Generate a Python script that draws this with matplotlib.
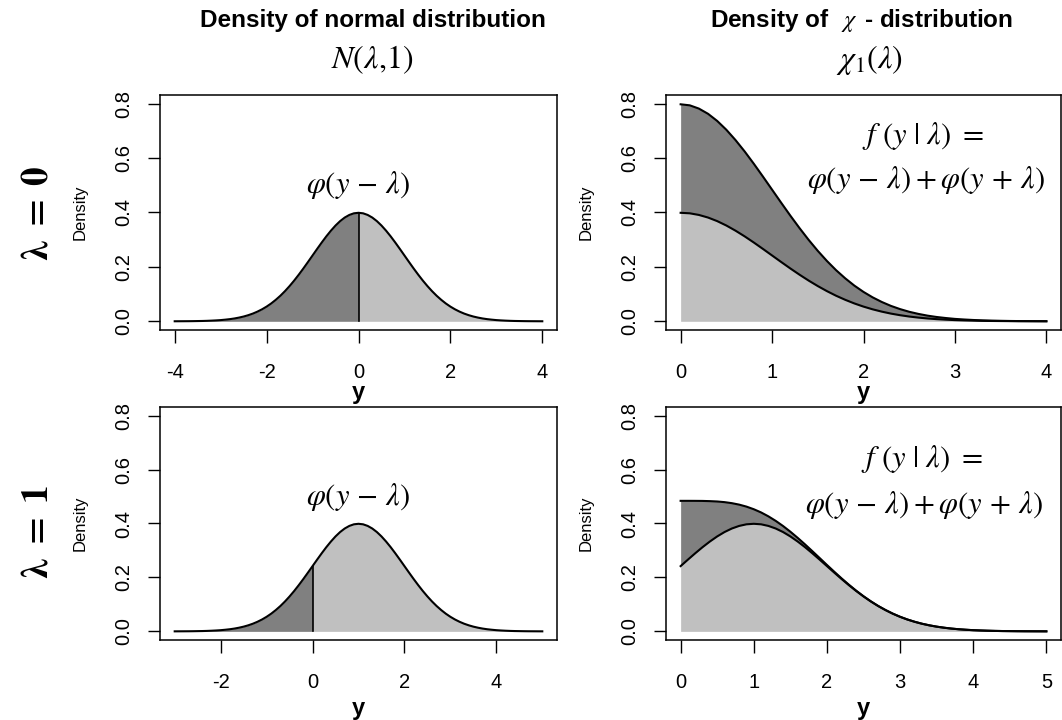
import numpy as np
import matplotlib
matplotlib.use("Agg")
import matplotlib.pyplot as plt

plt.rcParams['font.family'] = ['Liberation Sans', 'DejaVu Sans']
plt.rcParams['mathtext.fontset'] = 'stix'
plt.rcParams['axes.unicode_minus'] = False

# standard normal density read at z = 0.0, 0.1, ..., 4.0
phi_tab = [0.3989, 0.3970, 0.3910, 0.3814, 0.3683, 0.3521, 0.3332, 0.3123,
           0.2897, 0.2661, 0.2420, 0.2179, 0.1942, 0.1714, 0.1497, 0.1295,
           0.1109, 0.0940, 0.0790, 0.0656, 0.0540, 0.0440, 0.0355, 0.0283,
           0.0224, 0.0175, 0.0136, 0.0104, 0.0079, 0.0060, 0.0044, 0.0033,
           0.0024, 0.0017, 0.0012, 0.0009, 0.0006, 0.0004, 0.0003, 0.0002,
           0.0001]
lambdas = [0, 1]
normal_ranges = [(-4, 4), (-3, 5)]
chi_ranges = [(0, 4), (0, 5)]
yticks = [0.0, 0.2, 0.4, 0.6, 0.8]
row_labels = [r'$\boldsymbol{\lambda\ =\ 0}$', r'$\boldsymbol{\lambda\ =\ 1}$']

dark = '#808080'
light = '#c0c0c0'

tab = np.concatenate([np.array(phi_tab), np.zeros(40)])


def phi(z):
    # look up the tabulated density (grid step 0.1)
    return tab[np.rint(np.abs(z) * 10).astype(int)]


def grid(lo, hi):
    return np.round(np.arange(lo, hi + 0.05, 0.1), 1)


def style(ax, lo, hi, xt):
    ax.set_xlim(lo - 0.04 * (hi - lo), hi + 0.04 * (hi - lo))
    ax.set_ylim(-0.032, 0.832)
    ax.set_xticks(xt)
    ax.set_yticks(yticks)
    ax.set_yticklabels(['%.1f' % v for v in yticks], rotation=90, va='center')
    ax.tick_params(axis='x', length=9, width=1, pad=15, labelsize=14.5)
    ax.tick_params(axis='y', length=9, width=1, pad=10, labelsize=14.5)
    for s in ax.spines.values():
        s.set_linewidth(1.1)
    ax.set_ylabel('Density', fontsize=12)
    ax.yaxis.set_label_coords(-0.183, 0.5)


fig = plt.figure(figsize=(10.62, 7.2), dpi=100)
W, H = 1062.0, 720.0
rows = [(95, 330), (407, 640)]
fs = 22

for i, lam in enumerate(lambdas):
    top, bot = rows[i]
    axL = fig.add_axes([160 / W, 1 - bot / H, 397 / W, (bot - top) / H])
    axR = fig.add_axes([666 / W, 1 - bot / H, 395 / W, (bot - top) / H])
    xly = [-0.215, -0.245][i]

    # normal density
    lo, hi = normal_ranges[i]
    y = grid(lo, hi)
    d = phi(y - lam)
    axL.fill_between(y, 0, d, where=y <= 0, color=dark, lw=0)
    axL.fill_between(y, 0, d, where=y >= 0, color=light, lw=0)
    axL.plot(y, d, color='black', lw=1.5)
    axL.plot([0, 0], [0, phi(np.array([0 - lam]))[0]], color='black', lw=1.2)
    axL.text(lam, 0.5, r'$\varphi(y\,-\,\lambda)$', fontsize=fs, ha='center', va='center')
    style(axL, lo, hi, list(range(lo + (lo % 2), hi + 1, 2)))
    axL.set_xlabel('y', fontsize=17, fontweight='bold')
    axL.xaxis.set_label_coords(0.5, xly)

    # chi density
    lo, hi = chi_ranges[i]
    y = grid(lo, hi)
    d1 = phi(y - lam)
    d2 = d1 + phi(y + lam)
    axR.fill_between(y, 0, d1, color=light, lw=0)
    axR.fill_between(y, d1, d2, color=dark, lw=0)
    axR.plot(y, d1, color='black', lw=1.5)
    axR.plot(y, d2, color='black', lw=1.5)
    style(axR, lo, hi, list(range(lo, hi + 1)))
    axR.set_xlabel('y', fontsize=17, fontweight='bold')
    axR.xaxis.set_label_coords(0.5, xly)
    tx = [2.65, 3.3][i]
    ty = [0.68, 0.64][i]
    axR.text(tx, ty, r'$f\ (y\ |\ \lambda)\ =$', fontsize=fs, ha='center', va='center')
    axR.text(tx + 0.03, ty - 0.16 - 0.01 * i,
             r'$\varphi(y\,-\,\lambda)+\varphi(y\,+\,\lambda)$',
             fontsize=fs, ha='center', va='center')

    fig.text(38 / W, 1 - (214 + 318 * i) / H, row_labels[i], fontsize=27,
             rotation=90, ha='center', va='center')

fig.text(373 / W, 1 - 20 / H, 'Density of normal distribution', fontsize=17.5,
         fontweight='bold', ha='center', va='center')
fig.text(372 / W, 1 - 60 / H, r'$N(\lambda{,}1)$', fontsize=23, ha='center', va='center')
fig.text(862 / W, 1 - 20 / H, r'Density of  $\,\chi\,$ - distribution', fontsize=17.5,
         fontweight='bold', ha='center', va='center')
fig.text(870 / W, 1 - 60 / H, r'$\chi_1(\lambda)$', fontsize=23, ha='center', va='center')

fig.savefig('out.png', dpi=100, facecolor='white')
